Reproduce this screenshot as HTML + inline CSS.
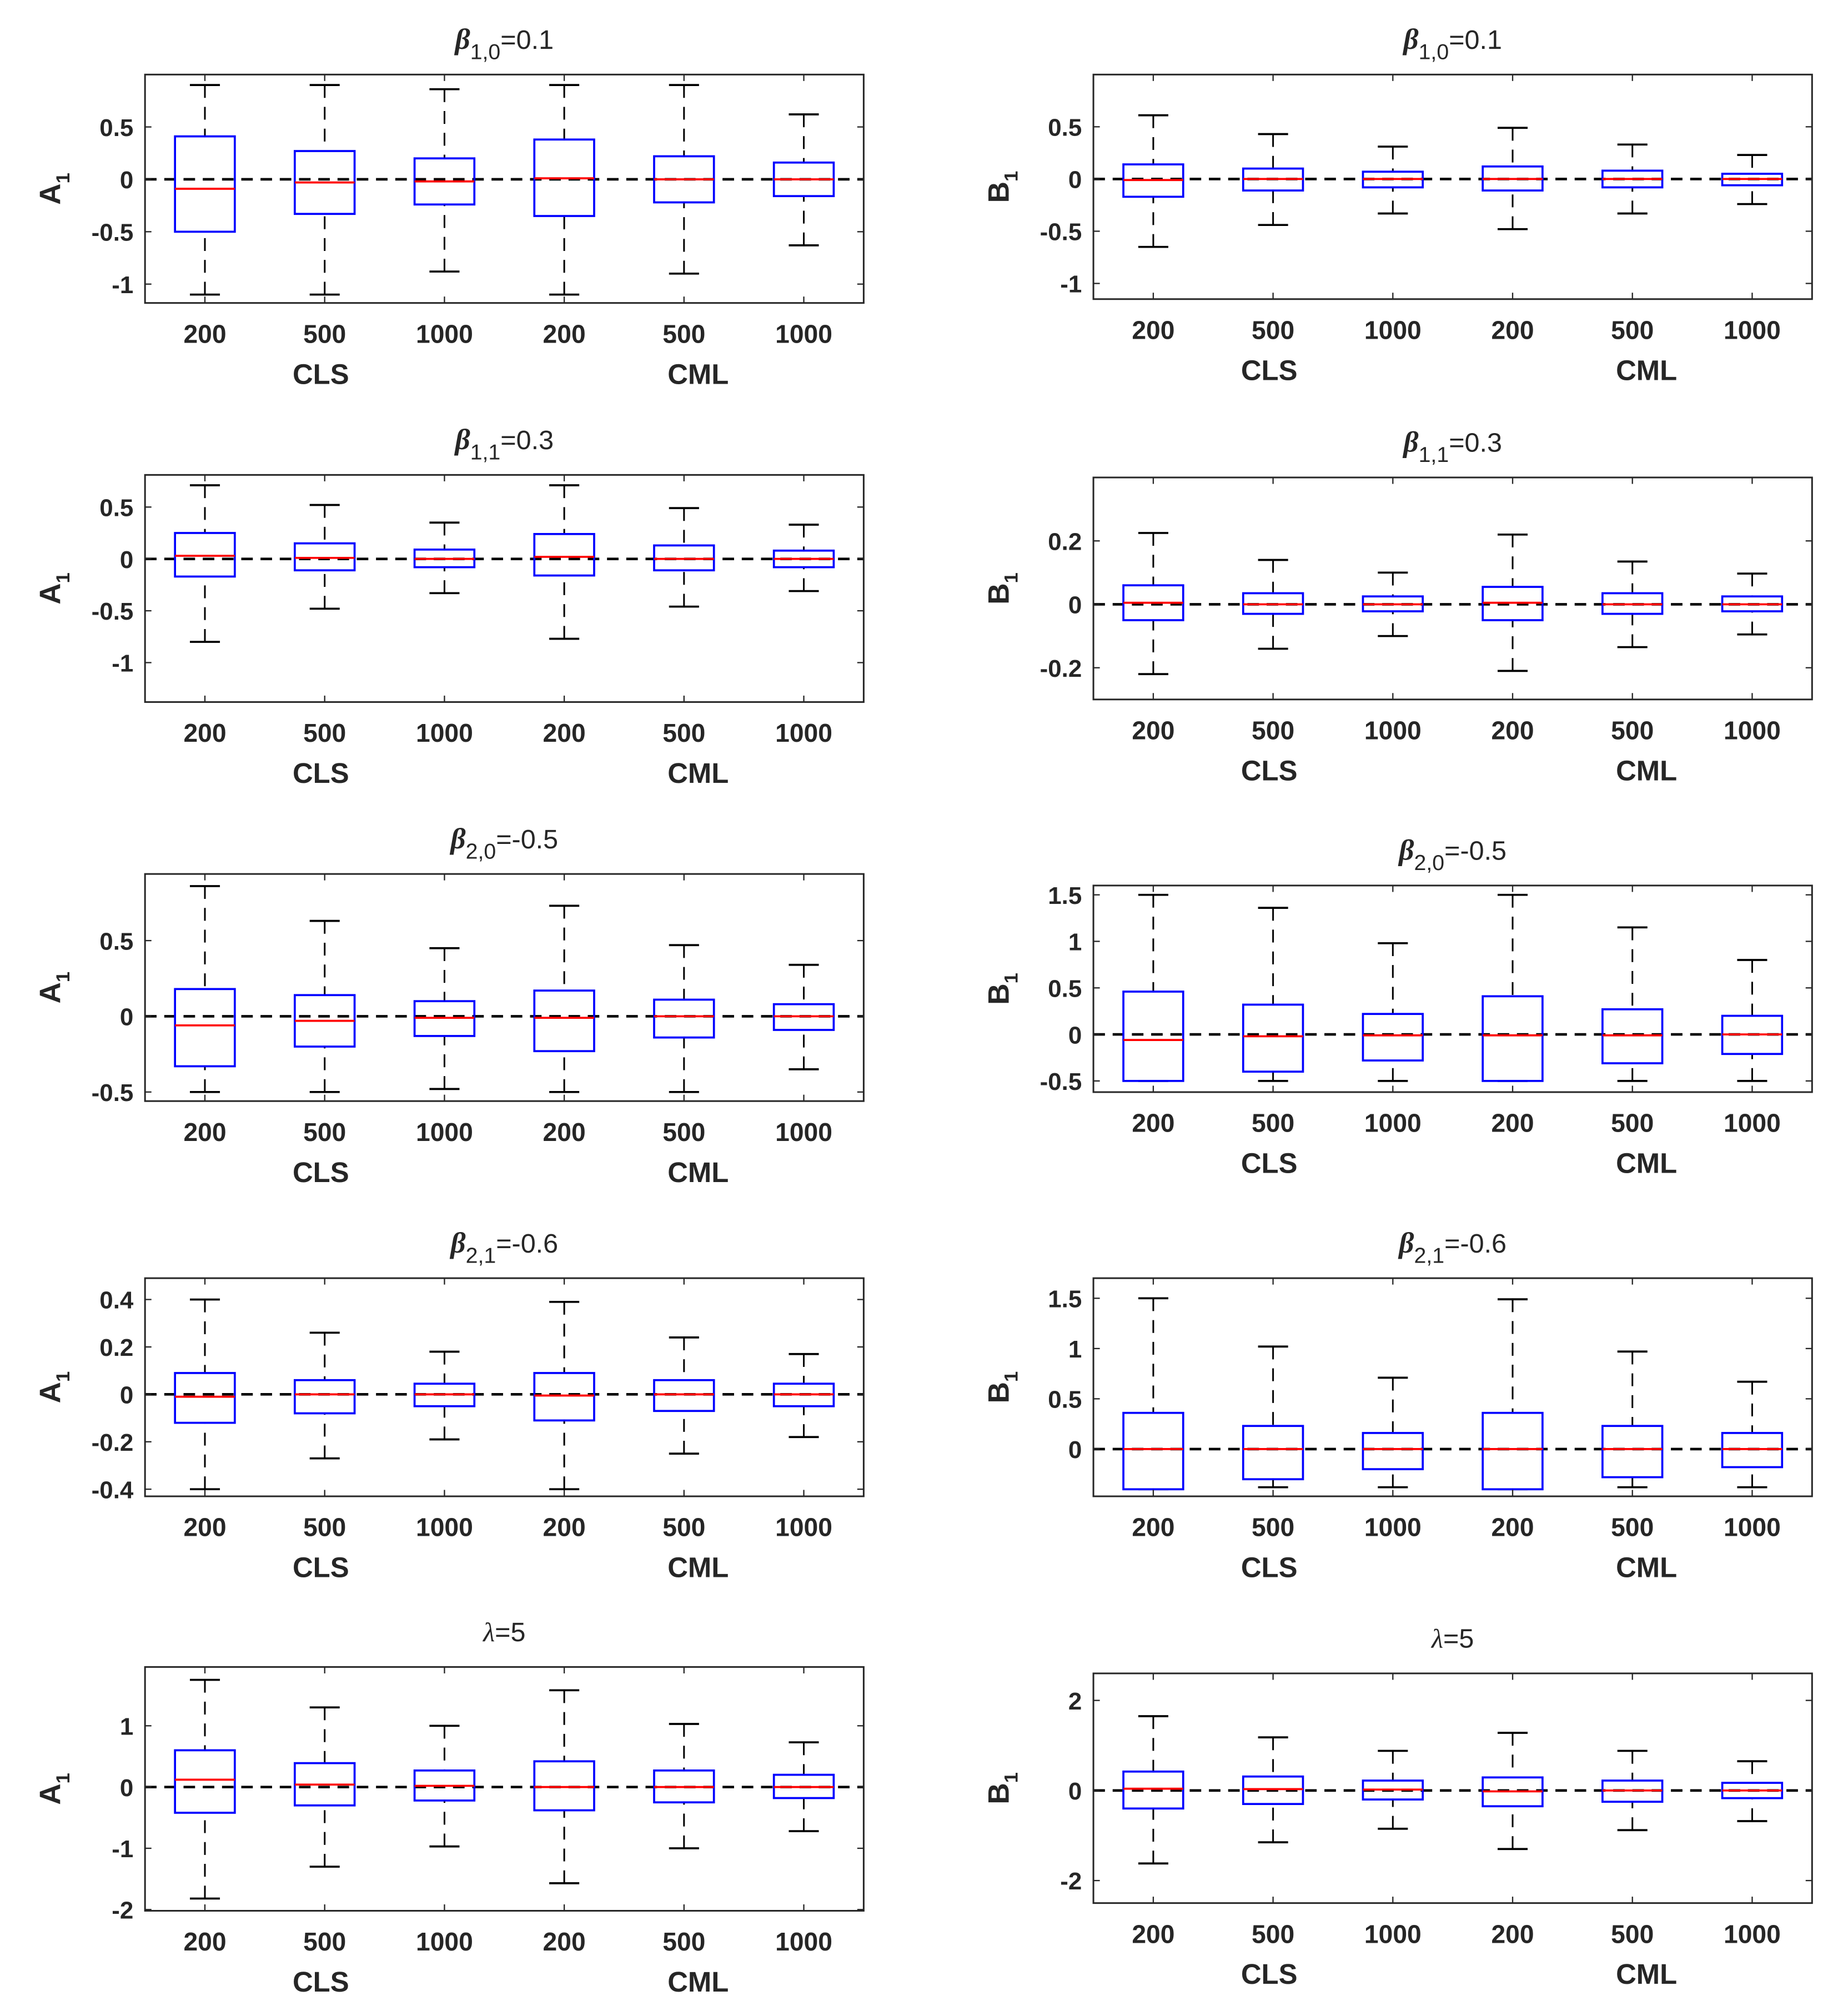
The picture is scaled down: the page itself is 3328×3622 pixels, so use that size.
<!DOCTYPE html>
<html><head><meta charset="utf-8"><style>
html,body{margin:0;padding:0;background:#fff}
svg{display:block}
text{font-family:"Liberation Sans",Arial,sans-serif;fill:#262626}
</style></head><body>
<svg id="chart" width="3328" height="3622" viewBox="0 0 1440 1567" xmlns="http://www.w3.org/2000/svg"></svg>
<script>
const categories = ["200","500","1000","200","500","1000"];
const groups = ["CLS","CML"];
// each box: [whiskerLow, q1, median, q3, whiskerHigh]
const r1A = [[-1.1,-0.5,-0.09,0.41,0.9],[-1.1,-0.33,-0.03,0.27,0.9],[-0.88,-0.24,-0.02,0.2,0.86],[-1.1,-0.35,0.01,0.38,0.9],[-0.9,-0.22,0,0.22,0.9],[-0.63,-0.16,0,0.16,0.62]];
const r1B = [[-0.65,-0.17,-0.01,0.14,0.61],[-0.44,-0.11,0,0.1,0.43],[-0.33,-0.08,0,0.07,0.31],[-0.48,-0.11,0,0.12,0.49],[-0.33,-0.08,0,0.08,0.33],[-0.24,-0.06,0,0.05,0.23]];
const r2A = [[-0.8,-0.17,0.03,0.25,0.71],[-0.48,-0.11,0.01,0.15,0.52],[-0.33,-0.08,0,0.09,0.35],[-0.77,-0.16,0.02,0.24,0.71],[-0.46,-0.11,0,0.13,0.49],[-0.31,-0.08,0,0.08,0.33]];
const r2B = [[-0.22,-0.05,0.005,0.06,0.225],[-0.14,-0.03,0,0.035,0.14],[-0.1,-0.022,0,0.025,0.1],[-0.21,-0.05,0.005,0.055,0.22],[-0.135,-0.03,0,0.035,0.135],[-0.095,-0.022,0,0.025,0.097]];
const r3A = [[-0.5,-0.33,-0.06,0.18,0.86],[-0.5,-0.2,-0.03,0.14,0.63],[-0.48,-0.13,-0.01,0.1,0.45],[-0.5,-0.23,-0.01,0.17,0.73],[-0.5,-0.14,0,0.11,0.47],[-0.35,-0.09,0,0.08,0.34]];
const r3B = [[-0.5,-0.5,-0.06,0.46,1.5],[-0.5,-0.4,-0.02,0.32,1.36],[-0.5,-0.28,-0.01,0.22,0.98],[-0.5,-0.5,-0.01,0.41,1.5],[-0.5,-0.31,-0.01,0.27,1.15],[-0.5,-0.21,0,0.2,0.8]];
const r4A = [[-0.4,-0.12,-0.01,0.09,0.4],[-0.27,-0.08,0,0.06,0.26],[-0.19,-0.05,0,0.045,0.18],[-0.4,-0.11,-0.005,0.09,0.39],[-0.25,-0.07,0,0.06,0.24],[-0.18,-0.05,0,0.045,0.17]];
const r4B = [[-0.4,-0.4,0,0.36,1.5],[-0.38,-0.3,0,0.23,1.02],[-0.38,-0.2,0,0.16,0.71],[-0.4,-0.4,0,0.36,1.49],[-0.38,-0.28,0,0.23,0.97],[-0.38,-0.18,0,0.16,0.67]];
const r5A = [[-1.82,-0.42,0.12,0.6,1.75],[-1.3,-0.3,0.04,0.39,1.3],[-0.97,-0.22,0.02,0.27,1.0],[-1.57,-0.38,0,0.42,1.58],[-1.0,-0.25,0,0.27,1.03],[-0.72,-0.18,0,0.2,0.73]];
const r5B = [[-1.62,-0.4,0.04,0.42,1.65],[-1.15,-0.3,0.03,0.31,1.18],[-0.85,-0.2,0.02,0.22,0.88],[-1.3,-0.35,-0.02,0.29,1.28],[-0.88,-0.25,0,0.22,0.88],[-0.68,-0.17,0,0.17,0.65]];
const ticksR1A=[-1,-0.5,0,0.5], ticksR1B=[-1,-0.5,0,0.5];
const ticksR2A=[-1,-0.5,0,0.5], ticksR2B=[-0.2,0,0.2];
const ticksR3A=[-0.5,0,0.5], ticksR3B=[-0.5,0,0.5,1,1.5];
const ticksR4A=[-0.4,-0.2,0,0.2,0.4], ticksR4B=[0,0.5,1,1.5];
const ticksR5A=[-2,-1,0,1], ticksR5B=[-2,0,2];
const titles=[["1,0","=0.1"],["1,1","=0.3"],["2,0","=-0.5"],["2,1","=-0.6"],[null,"=5"]];

const panels=[
 {d:r1A,t:ticksR1A,x:113,y0:58,y1:236,lim:[-1.18,1.0],lab:"A",row:0},
 {d:r1B,t:ticksR1B,x:852,y0:58,y1:233,lim:[-1.15,1.0],lab:"B",row:0},
 {d:r2A,t:ticksR2A,x:113,y0:370,y1:547,lim:[-1.38,0.81],lab:"A",row:1},
 {d:r2B,t:ticksR2B,x:852,y0:372,y1:545,lim:[-0.3,0.4],lab:"B",row:1},
 {d:r3A,t:ticksR3A,x:113,y0:681,y1:858,lim:[-0.56,0.94],lab:"A",row:2},
 {d:r3B,t:ticksR3B,x:852,y0:690,y1:851,lim:[-0.62,1.6],lab:"B",row:2},
 {d:r4A,t:ticksR4A,x:113,y0:996,y1:1166,lim:[-0.43,0.49],lab:"A",row:3},
 {d:r4B,t:ticksR4B,x:852,y0:996,y1:1166,lim:[-0.47,1.7],lab:"B",row:3},
 {d:r5A,t:ticksR5A,x:113,y0:1299,y1:1489,lim:[-2.02,1.96],lab:"A",row:4},
 {d:r5B,t:ticksR5B,x:852,y0:1304,y1:1483,lim:[-2.5,2.6],lab:"B",row:4}
];
const svg=document.getElementById('chart');
const NS="http://www.w3.org/2000/svg";
function mk(tag,attrs,parent){const e=document.createElementNS(NS,tag);for(const k in attrs)e.setAttribute(k,attrs[k]);(parent||svg).appendChild(e);return e;}
const W=560;
panels.forEach((p,pi)=>{
 const g=mk('g',{});
 
 
 const xs=i=>p.x+(i+0.5)*W/6;
 const ys=v=>p.y1-(v-p.lim[0])/(p.lim[1]-p.lim[0])*(p.y1-p.y0);
 const z=mk('line',{x1:p.x,x2:p.x+W,y1:ys(0),y2:ys(0),stroke:'#000','stroke-width':2,'stroke-dasharray':'9,6'},g);
 
 
 p.d.forEach((b,i)=>{
  const cx=xs(i),hw=23.3,cw=11.7;
  const bg=mk('g',{},g);
  
  
  mk('line',{x1:cx,x2:cx,y1:ys(b[0]),y2:ys(b[1]),stroke:'#000','stroke-width':1.3,'stroke-dasharray':'10,7'},bg);
  mk('line',{x1:cx,x2:cx,y1:ys(b[4]),y2:ys(b[3]),stroke:'#000','stroke-width':1.3,'stroke-dasharray':'10,7'},bg);
  mk('line',{x1:cx-cw,x2:cx+cw,y1:ys(b[0]),y2:ys(b[0]),stroke:'#000','stroke-width':1.6},bg);
  mk('line',{x1:cx-cw,x2:cx+cw,y1:ys(b[4]),y2:ys(b[4]),stroke:'#000','stroke-width':1.6},bg);
  mk('rect',{x:cx-hw,y:ys(b[3]),width:2*hw,height:Math.max(0.5,ys(b[1])-ys(b[3])),fill:'none',stroke:'#0000ff','stroke-width':1.6},bg);
  mk('line',{x1:cx-hw,x2:cx+hw,y1:ys(b[2]),y2:ys(b[2]),stroke:'#ff0000','stroke-width':1.6},bg);
  mk('line',{x1:cx,x2:cx,y1:p.y1,y2:p.y1-5,stroke:'#262626','stroke-width':1},g);
  mk('line',{x1:cx,x2:cx,y1:p.y0,y2:p.y0+5,stroke:'#262626','stroke-width':1},g);
  const tl=mk('text',{x:cx,y:p.y1+31,'text-anchor':'middle','font-size':20,'font-weight':'bold'},g);
  tl.textContent=categories[i];
  
  
 });
 groups.forEach((gn,k)=>{
  const gx = k===0 ? xs(1)-3 : xs(4)+11;
  const t=mk('text',{x:gx,y:p.y1+63,'text-anchor':'middle','font-size':22,'font-weight':'bold'},g);
  t.textContent=gn;
  
  
 });
 p.t.forEach(v=>{
  const y=ys(v);
  mk('line',{x1:p.x,x2:p.x+5,y1:y,y2:y,stroke:'#262626','stroke-width':1},g);
  mk('line',{x1:p.x+W,x2:p.x+W-5,y1:y,y2:y,stroke:'#262626','stroke-width':1},g);
  const t=mk('text',{x:p.x-9,y:y+7,'text-anchor':'end','font-size':19,'font-weight':'bold'},g);
  t.textContent=String(v);
  
  
 });
 const fr=mk('rect',{x:p.x,y:p.y0,width:W,height:p.y1-p.y0,fill:'none',stroke:'#262626','stroke-width':1.3},g);
 
 
 const lx=p.x-66,ly=(p.y0+p.y1)/2;
 const yl=mk('text',{x:lx,y:ly,transform:'rotate(-90 '+lx+' '+ly+')','text-anchor':'middle','font-size':23,'font-weight':'bold'},g);
 yl.innerHTML=p.lab+'<tspan font-size="15" dy="7">1</tspan>';
 
 
 const tt=titles[p.row];
 const tx=p.x+W/2, ty=p.y0-20;
 const ti=mk('text',{x:tx,y:ty,'text-anchor':'middle','font-size':21},g);
 if(tt[0]) ti.innerHTML='<tspan font-weight="bold" font-style="italic" font-family="Liberation Serif,serif" font-size="23">β</tspan><tspan font-size="17" dy="8">'+tt[0]+'</tspan><tspan dy="-8">'+tt[1]+'</tspan>';
 else ti.innerHTML='<tspan font-style="italic" font-family="Liberation Serif,serif">λ</tspan>'+tt[1];
 
 
});
</script>
</body></html>
